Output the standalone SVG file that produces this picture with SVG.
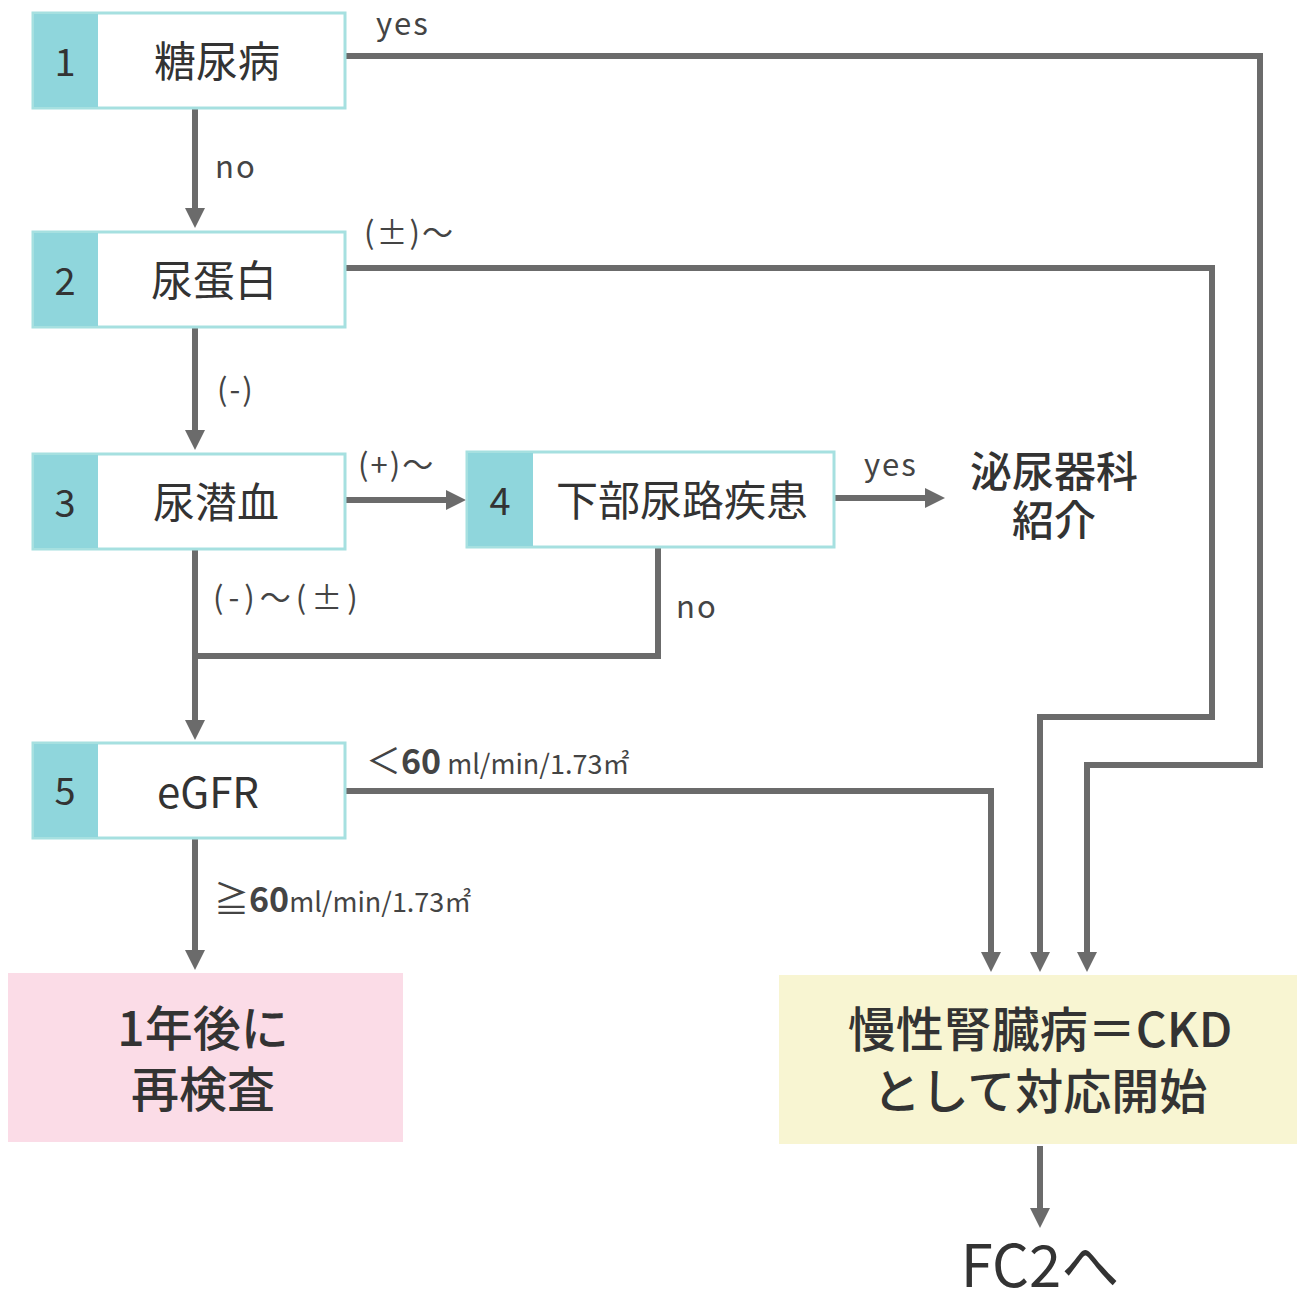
<svg xmlns="http://www.w3.org/2000/svg" width="1299" height="1304" viewBox="0 0 1299 1304">
<defs>
<marker id="ah" markerUnits="userSpaceOnUse" markerWidth="22" markerHeight="22" viewBox="0 0 20 22" refX="8" refY="11" orient="auto">
<path d="M0,1 L20,11 L0,21 Z" fill="#6b6b6b"/>
</marker>
</defs>
<style>
text{font-family:"Noto Sans CJK JP","Noto Sans",sans-serif;fill:#333}
.box{fill:#fff;stroke:#a6e0e0;stroke-width:3}
.tab{fill:#8fd6dc}
.num{font-size:38px;text-anchor:middle}
.lbl{font-size:42px;text-anchor:middle}
.edge{fill:none;stroke:#6b6b6b;stroke-width:6}
.sm{font-size:31px;fill:#444;letter-spacing:2px}
.big{font-size:48px;text-anchor:middle;font-weight:500}
</style>
<rect width="1299" height="1304" fill="#fff"/>
<g id="connectors">
<polyline class="edge" points="346,56 1260,56 1260,765 1087,765 1087,960" marker-end="url(#ah)"/>
<polyline class="edge" points="346,268 1212,268 1212,717 1040,717 1040,960" marker-end="url(#ah)"/>
<polyline class="edge" points="346,791 991,791 991,960" marker-end="url(#ah)"/>
<line class="edge" x1="195" y1="109" x2="195" y2="216" marker-end="url(#ah)"/>
<line class="edge" x1="195" y1="328" x2="195" y2="438" marker-end="url(#ah)"/>
<line class="edge" x1="195" y1="550" x2="195" y2="728" marker-end="url(#ah)"/>
<polyline class="edge" points="658,548 658,656 195,656"/>
<line class="edge" x1="346" y1="500" x2="454" y2="500" marker-end="url(#ah)"/>
<line class="edge" x1="835" y1="498" x2="933" y2="498" marker-end="url(#ah)"/>
<line class="edge" x1="195" y1="839" x2="195" y2="958" marker-end="url(#ah)"/>
<line class="edge" x1="1040" y1="1146" x2="1040" y2="1216" marker-end="url(#ah)"/>
<text class="sm" x="376" y="35" font-size="30">yes</text>
<text class="sm" x="215" y="178">no</text>
<text class="sm" x="364" y="244">(±)～</text>
<text class="sm" x="217" y="401">(-)</text>
<text class="sm" x="358" y="476">(+)～</text>
<text class="sm" x="213" y="609" style="letter-spacing:5px">(-)～(±)</text>
<text class="sm" x="676" y="618">no</text>
<text class="sm" x="864" y="476">yes</text>
<text class="sm" x="366" y="774" style="letter-spacing:0px"><tspan font-size="35">＜</tspan><tspan font-size="34" font-weight="bold">60</tspan><tspan font-size="27"> ml/min/1.73㎡</tspan></text>
<text class="sm" x="214" y="912" style="letter-spacing:0px"><tspan font-size="35">≧</tspan><tspan font-size="34" font-weight="bold">60</tspan><tspan font-size="27">ml/min/1.73㎡</tspan></text>
</g>
<g id="node1">
<rect class="box" x="33" y="13" width="312" height="95"/>
<rect class="tab" x="34" y="14" width="64" height="93"/>
<text class="num" x="65" y="76">1</text>
<text class="lbl" x="217" y="77">糖尿病</text>
</g>
<g id="node2">
<rect class="box" x="33" y="232" width="312" height="95"/>
<rect class="tab" x="34" y="233" width="64" height="93"/>
<text class="num" x="65" y="295">2</text>
<text class="lbl" x="214" y="296">尿蛋白</text>
</g>
<g id="node3">
<rect class="box" x="33" y="454" width="312" height="95"/>
<rect class="tab" x="34" y="455" width="64" height="93"/>
<text class="num" x="65" y="517">3</text>
<text class="lbl" x="216" y="518">尿潜血</text>
</g>
<g id="node4">
<rect class="box" x="467" y="452" width="367" height="95"/>
<rect class="tab" x="468" y="453" width="65" height="93"/>
<text class="num" x="500" y="515">4</text>
<text class="lbl" x="682" y="516" font-size="43">下部尿路疾患</text>
</g>
<g id="urology">
<text class="lbl" font-size="40" font-weight="500"><tspan x="1054" y="487">泌尿器科</tspan><tspan x="1054" y="536">紹介</tspan></text>
</g>
<g id="node5">
<rect class="box" x="33" y="743" width="312" height="95"/>
<rect class="tab" x="34" y="744" width="64" height="93"/>
<text class="num" x="65" y="805">5</text>
<text class="lbl" x="208" y="808">eGFR</text>
</g>
<g id="recheck">
<rect x="8" y="973" width="395" height="169" fill="#fbdce7"/>
<text class="big"><tspan x="203" y="1046">1年後に</tspan><tspan x="203" y="1107">再検査</tspan></text>
</g>
<g id="ckd">
<rect x="779" y="975" width="518" height="169" fill="#f8f5d2"/>
<text class="big"><tspan x="1040" y="1047">慢性腎臓病＝CKD</tspan><tspan x="1040" y="1109">として対応開始</tspan></text>
</g>
<g id="fc2">
<text x="1040" y="1287" font-size="58" text-anchor="middle">FC2へ</text>
</g>
</svg>
